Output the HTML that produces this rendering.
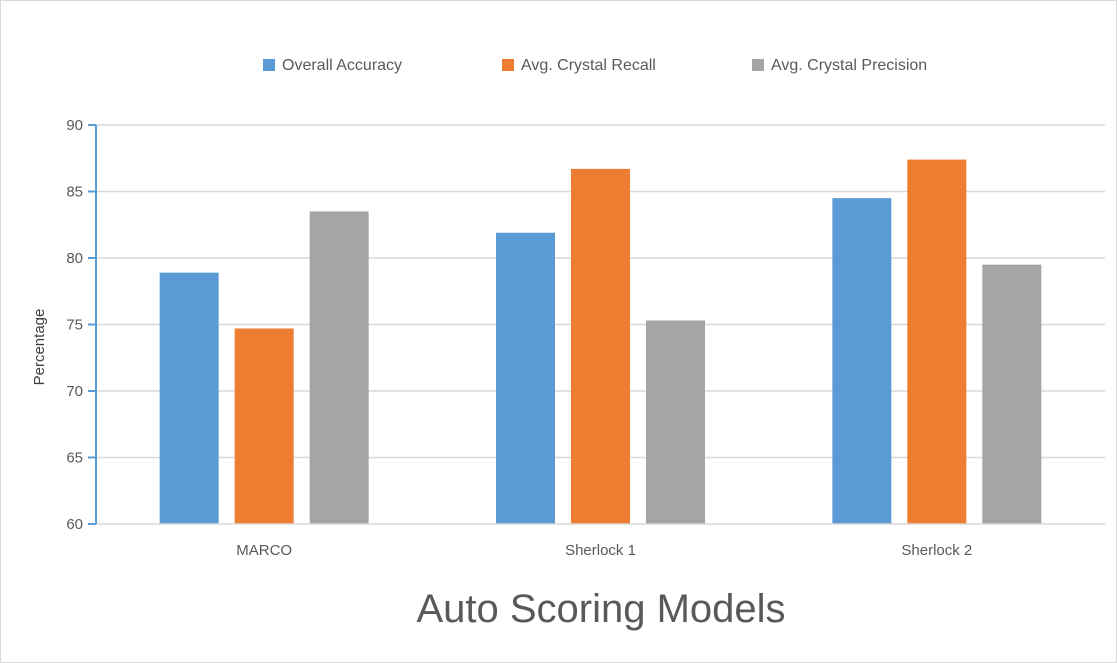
<!DOCTYPE html>
<html><head><meta charset="utf-8"><style>
body{margin:0;background:#fff}
svg{display:block;font-family:"Liberation Sans",sans-serif}
</style></head><body>
<svg id="chart" width="1117" height="663">
<rect x="0.5" y="0.5" width="1116" height="662" fill="#fff" stroke="#d9d9d9"/>
<g id="legend"></g>
<g id="grid"></g>
<g id="bars"></g>
<g id="axes"></g>
<text x="44" y="347" transform="rotate(-90 44 347)" text-anchor="middle" font-size="15" fill="#404040">Percentage</text>
<text x="601" y="622" text-anchor="middle" font-size="40" fill="#595959">Auto Scoring Models</text>
</svg>
<script>
const categories = ["MARCO", "Sherlock 1", "Sherlock 2"];
const seriesNames = ["Overall Accuracy", "Avg. Crystal Recall", "Avg. Crystal Precision"];
const overallAccuracy = [78.9, 81.9, 84.5];
const crystalRecall = [74.7, 86.7, 87.4];
const crystalPrecision = [83.5, 75.3, 79.5];
const yTicks = [60, 65, 70, 75, 80, 85, 90];
const colors = ["#5B9BD5", "#ED7D31", "#A5A5A5"];
const series = [overallAccuracy, crystalRecall, crystalPrecision];

const NS = "http://www.w3.org/2000/svg";
const x0 = 96, x1 = 1105, yTop = 125, yBot = 524, yMin = 60, yMax = 90;
const yScale = v => yBot - (v - yMin) / (yMax - yMin) * (yBot - yTop);
const band = (x1 - x0) / categories.length;
const xCenter = i => x0 + band * (i + 0.5);
const barW = 59, gap = 16;
function mk(tag, attrs, parent) { const e = document.createElementNS(NS, tag); for (const k in attrs) e.setAttribute(k, attrs[k]); parent.appendChild(e); return e; }
const grid = document.getElementById('grid'), axes = document.getElementById('axes'), bars = document.getElementById('bars'), legend = document.getElementById('legend');

yTicks.forEach(t => {
  const y = yScale(t);
  if (t !== yMin) { const g = mk('line', {x1: x0, x2: x1, y1: y, y2: y, stroke: '#d9d9d9', 'stroke-width': 1.5}, grid);   }
  const tk = mk('line', {x1: x0 - 8, x2: x0, y1: y, y2: y, stroke: '#5B9BD5', 'stroke-width': 2}, axes);
   
  const lb = mk('text', {x: 83, y: y + 5, 'text-anchor': 'end', 'font-size': 15, fill: '#595959'}, axes);
  lb.textContent = t;
   
});
const xa = mk('line', {x1: x0, x2: x1, y1: yBot, y2: yBot, stroke: '#d9d9d9', 'stroke-width': 1.5}, axes);
 
const ya = mk('line', {x1: x0, x2: x0, y1: yTop, y2: yBot, stroke: '#5B9BD5', 'stroke-width': 2}, axes);
 

categories.forEach((c, i) => {
  const cx = xCenter(i);
  series.forEach((s, j) => {
    const bx = cx + (j - 1) * (barW + gap) - barW / 2;
    const y = yScale(s[i]);
    const r = mk('rect', {x: bx, y: y, width: barW, height: yBot - y, fill: colors[j]}, bars);
    
    
  });
  const t = mk('text', {x: cx, y: 555, 'text-anchor': 'middle', 'font-size': 15, fill: '#595959'}, axes);
  t.textContent = c;
   
});

const legX = [263, 502, 752];
seriesNames.forEach((n, j) => {
  const sw = mk('rect', {x: legX[j], y: 59, width: 12, height: 12, fill: colors[j]}, legend);
   
  const t = mk('text', {x: legX[j] + 19, y: 70, 'font-size': 16, fill: '#595959'}, legend);
  t.textContent = n;
   
});
</script>
</body></html>
